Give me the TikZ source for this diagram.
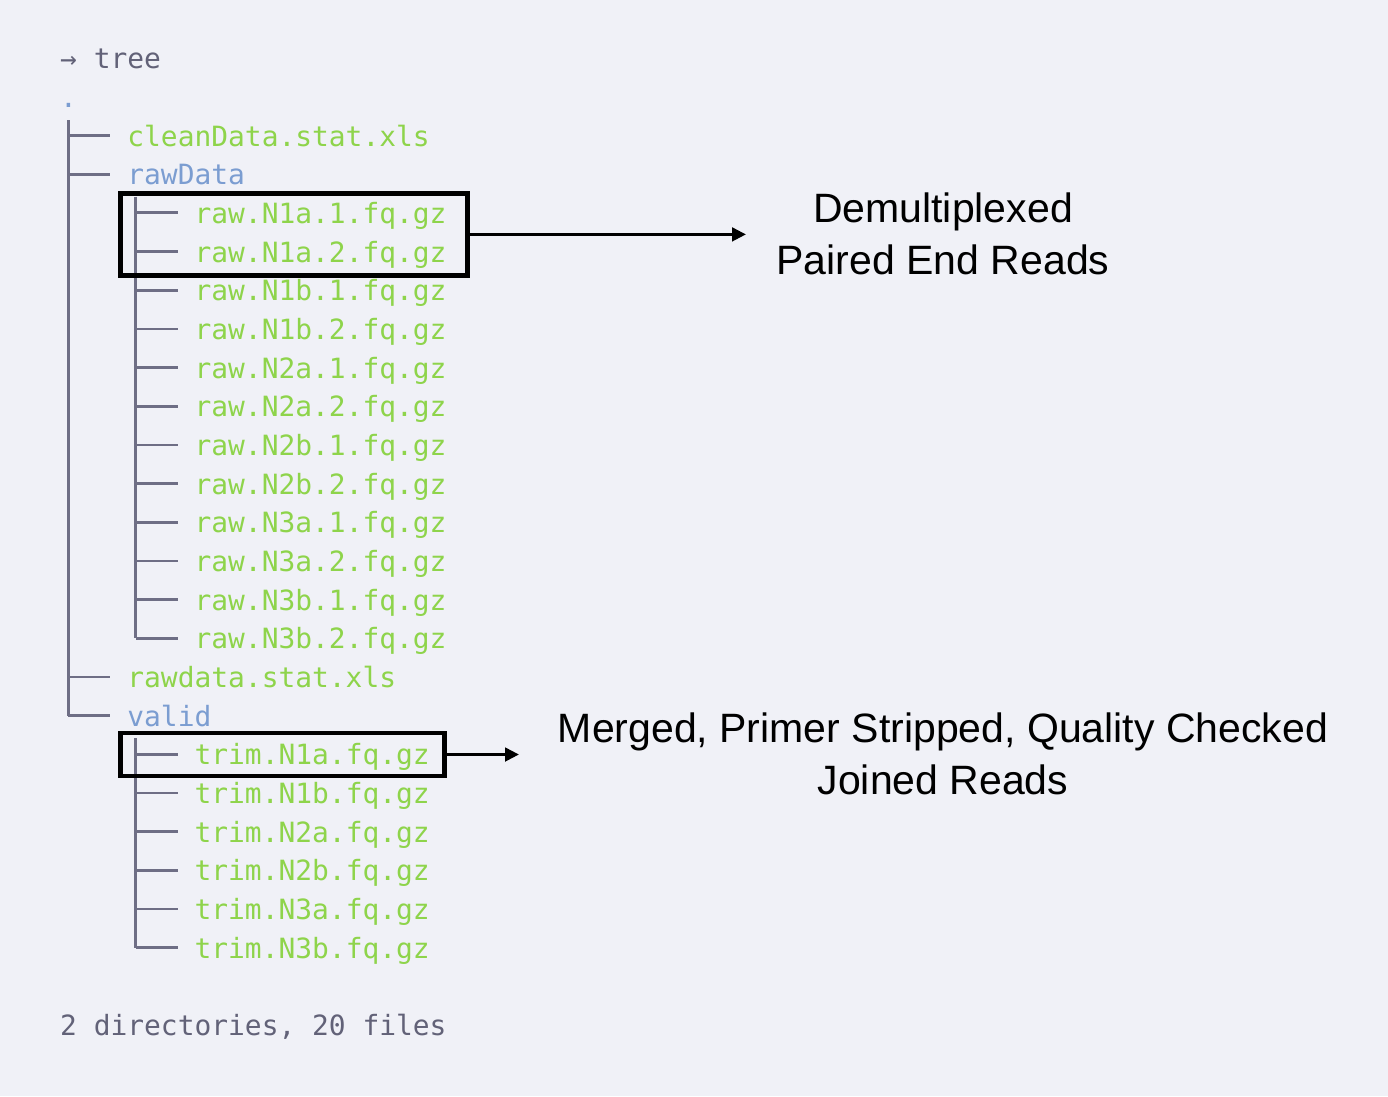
\documentclass[tikz,border=0pt]{standalone}
\usepackage{fontspec}
\setmonofont{DejaVu Sans Mono}
\newfontfamily\labelfont{Liberation Sans}
\usetikzlibrary{arrows.meta}
\definecolor{bgc}{HTML}{F0F1F7}
\definecolor{filec}{HTML}{8ED44B}
\definecolor{dirc}{HTML}{7B9DD1}
\definecolor{linec}{HTML}{6E6E85}
\definecolor{greyt}{HTML}{626278}
\tikzset{
  mono/.style={anchor=base west,inner sep=0pt,font=\ttfamily\fontsize{27.9}{30}\selectfont},
  filetxt/.style={mono,text=filec},
  dirtxt/.style={mono,text=dirc},
  greytxt/.style={mono,text=greyt},
  treeline/.style={draw=linec,line width=2.7pt},
  hibox/.style={draw=black,line width=4.5pt,inner sep=0pt},
  callout/.style={draw=black,line width=3.2pt,-{Triangle[length=14pt,width=13.5pt]}},
  labeltxt/.style={align=center,inner sep=0pt,font=\labelfont\fontsize{41}{52}\selectfont,text=black}
}
\begin{document}
\begin{tikzpicture}[x=1pt,y=-1pt]
\useasboundingbox (0,0) rectangle (1388,1096);
\fill[bgc] (0,0) rectangle (1388,1096);
\def\xo{60}\def\cw{16.8}\def\yb{146}\def\rh{38.67}
% text rows
\node[greytxt] (rtree) at (\xo,\yb-2*\rh) {→ tree};
\node[dirtxt] (rdot) at (\xo,\yb-\rh) {.};
\node[filetxt] (r0) at (\xo+4*\cw,\yb) {cleanData.stat.xls};
\node[dirtxt] (r1) at (\xo+4*\cw,\yb+\rh) {rawData};
\foreach \i/\t in {2/raw.N1a.1.fq.gz,3/raw.N1a.2.fq.gz,4/raw.N1b.1.fq.gz,5/raw.N1b.2.fq.gz,6/raw.N2a.1.fq.gz,7/raw.N2a.2.fq.gz,8/raw.N2b.1.fq.gz,9/raw.N2b.2.fq.gz,10/raw.N3a.1.fq.gz,11/raw.N3a.2.fq.gz,12/raw.N3b.1.fq.gz,13/raw.N3b.2.fq.gz}
  \node[filetxt] (r\i) at (\xo+8*\cw,\yb+\i*\rh) {\t};
\node[filetxt] (r14) at (\xo+4*\cw,\yb+14*\rh) {rawdata.stat.xls};
\node[dirtxt] (r15) at (\xo+4*\cw,\yb+15*\rh) {valid};
\foreach \i/\t in {16/trim.N1a.fq.gz,17/trim.N1b.fq.gz,18/trim.N2a.fq.gz,19/trim.N2b.fq.gz,20/trim.N3a.fq.gz,21/trim.N3b.fq.gz}
  \node[filetxt] (r\i) at (\xo+8*\cw,\yb+\i*\rh) {\t};
\node[greytxt] (rsum) at (\xo,\yb+23*\rh) {2 directories, 20 files};
% tree lines
\def\ya{-10.5}
\draw[treeline] (\xo+0.5*\cw,120) -- (\xo+0.5*\cw,\yb+15*\rh+\ya);
\foreach \i in {0,1,14,15}
  \draw[treeline] (\xo+0.5*\cw,\yb+\i*\rh+\ya) -- (\xo+3*\cw,\yb+\i*\rh+\ya);
\draw[treeline] (\xo+4.5*\cw,196.7) -- (\xo+4.5*\cw,\yb+13*\rh+\ya);
\draw[treeline] (\xo+4.5*\cw,738) -- (\xo+4.5*\cw,\yb+21*\rh+\ya);
\foreach \i in {2,...,13,16,17,...,21}
  \draw[treeline] (\xo+4.5*\cw,\yb+\i*\rh+\ya) -- (\xo+7*\cw,\yb+\i*\rh+\ya);
% highlight boxes
\node[hibox,minimum width=346.8pt,minimum height=82.2pt] (box1) at (294.1,234.4) {};
\node[hibox,minimum width=323.6pt,minimum height=43pt] (box2) at (282.5,754.5) {};
% labels (base = baseline of the last line)
\node[labeltxt,anchor=base] (lab1) at (943,274) {Demultiplexed\\Paired End Reads};
\node[labeltxt,anchor=base] (lab2) at (943,794) {Merged, Primer Stripped, Quality Checked\\Joined Reads};
% callouts
\coordinate (a1) at (746,234);
\coordinate (a2) at (519,754.3);
\draw[callout] (box1.east) -- (box1.east -| a1);
\draw[callout] (box2.east) -- (box2.east -| a2);
\end{tikzpicture}
\end{document}
